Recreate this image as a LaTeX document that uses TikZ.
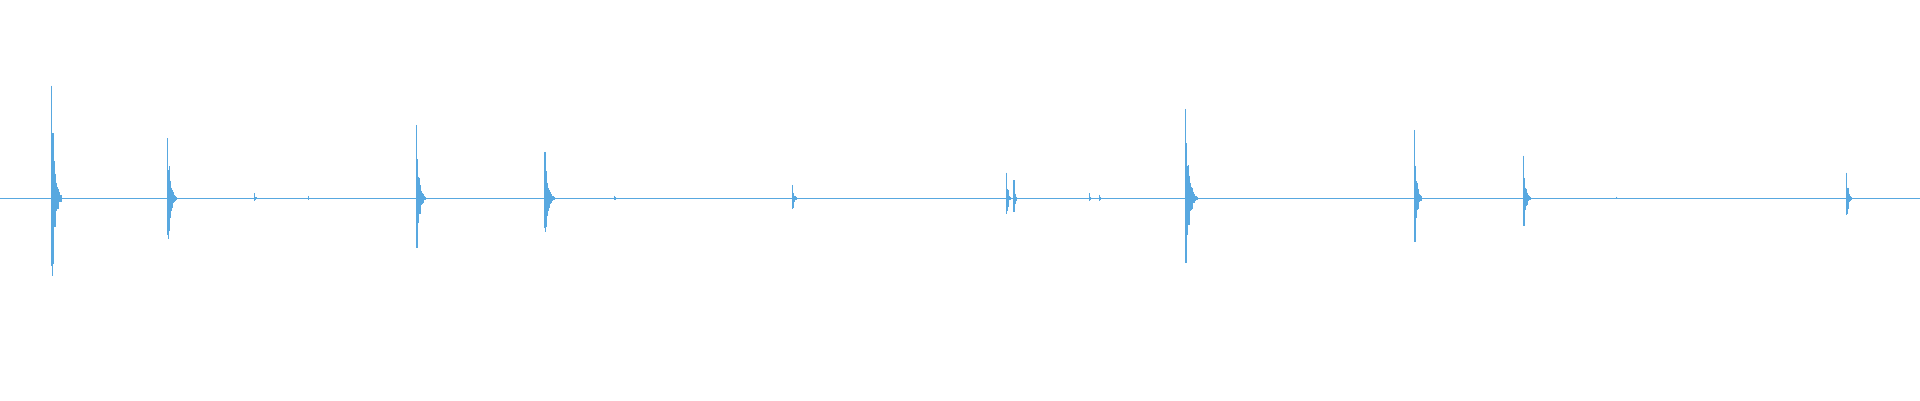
\documentclass[tikz,border=0pt]{standalone}
\definecolor{wave}{RGB}{88,168,224}
\begin{document}
\begin{tikzpicture}[x=0.5pt,y=-0.5pt,wv/.style={draw=wave,line width=0.5pt}]
\useasboundingbox (0,0) rectangle (1568,327);
\coordinate (L) at (0,162); \coordinate (R) at (1568,162);
\draw[wv] (L) -- (R);
% spike: x, up, down, decay length
\foreach \x/\u/\d/\n in {42/92/92/14, 137/49/50/12, 208/4/4/4, 252/2/2/3, 340/60/61/12, 445/38/40/14, 502/2/2/6, 647/11/14/8, 822/21/21/6, 828/15/18/5, 890/4/4/3, 898/3/3/3, 968/73/74/16, 1155/56/57/10, 1244/35/36/10, 1320/1.5/1.5/6, 1508/21/22/8}{
  \foreach \i in {0,...,\n}{
    \pgfmathsetmacro{\xx}{\x+\i*0.6}
    \pgfmathsetmacro{\up}{162-\u*exp(-\i*4/(\n+1))*(0.6+0.4*abs(cos(\i*97)))}
    \pgfmathsetmacro{\dn}{162+\d*exp(-\i*4/(\n+1))*(0.6+0.4*abs(sin(\i*131)))}
    \draw[wv] (\xx,\up) -- (\xx,\dn);
  }
}
\end{tikzpicture}
\end{document}
